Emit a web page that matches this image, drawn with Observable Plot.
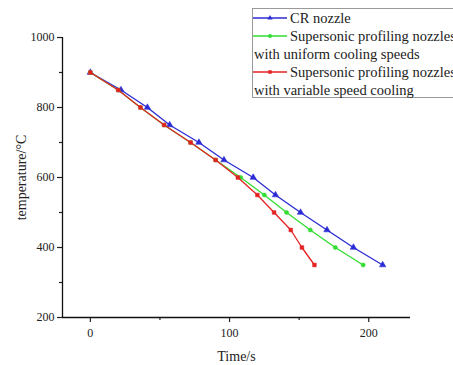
<!DOCTYPE html>
<html><head><meta charset="utf-8">
<script src="https://cdn.jsdelivr.net/npm/d3@7"></script>
<script src="https://cdn.jsdelivr.net/npm/@observablehq/plot@0.6"></script>
<style>
body{margin:0;background:#fff;}
#wrap{position:relative;width:453px;height:365px;overflow:hidden;font-family:"Liberation Serif","DejaVu Serif",serif;}
#legend{position:absolute;left:252px;top:8px;width:230px;height:90px;border:1px solid #999;background:#fff;font-size:14.5px;line-height:18px;color:#222;box-sizing:border-box;padding-top:0px;}
#legend .row{white-space:nowrap;height:18px;display:flex;align-items:center;}
#legend .row svg{flex:none;margin-right:3px;}
</style></head>
<body><div id="wrap"><div id="chart"></div><div id="legend"></div></div>
<script>
const seriesNames = ["CR nozzle", "Supersonic profiling nozzles with uniform cooling speeds", "Supersonic profiling nozzles with variable speed cooling"];
const legendLines = [["CR nozzle"], ["Supersonic profiling nozzles", "with uniform cooling speeds"], ["Supersonic profiling nozzles", "with variable speed cooling"]];
const colors = ["#2b2bd6", "#30dd30", "#e42222"];
const symbols = ["triangle", "circle", "square"];

const crTime = [0, 22, 41, 57, 78, 96, 117, 133, 151, 170, 189, 210];
const crTemp = [900, 850, 800, 750, 700, 650, 600, 550, 500, 450, 400, 350];
const uniTime = [0, 20, 36, 53, 72, 90, 108, 125, 141, 158, 176, 196];
const uniTemp = [900, 850, 800, 750, 700, 650, 600, 550, 500, 450, 400, 350];
const varTime = [0, 20, 36, 53, 72, 90, 106, 120, 132, 144, 152, 161];
const varTemp = [900, 850, 800, 750, 700, 650, 600, 550, 500, 450, 400, 350];

const xMajor = [0, 100, 200];
const xMinor = [50, 150];
const yMajor = [200, 400, 600, 800, 1000];
const yMinor = [300, 500, 700, 900];

const times = [crTime, uniTime, varTime];
const temps = [crTemp, uniTemp, varTemp];
const data = [];
times.forEach((ts, s) => ts.forEach((t, i) => data.push({series: seriesNames[s], idx: s, t, T: temps[s][i]})));

const marks = [];
seriesNames.forEach((name, s) => {
  const d = data.filter(r => r.idx === s);
  marks.push(Plot.line(d, {x: "t", y: "T", stroke: colors[s], strokeWidth: 1.3}));
  marks.push(Plot.dot(d, {x: "t", y: "T", fill: colors[s], stroke: colors[s], symbol: symbols[s], r: s === 0 ? 2.4 : 2.1, strokeWidth: 0.5}));
});

const chart = Plot.plot({
  width: 453, height: 365,
  marginLeft: 62, marginRight: 43, marginTop: 37, marginBottom: 48,
  style: {fontFamily: "'Liberation Serif', serif", fontSize: "12px", color: "#222", background: "#fff"},
  x: {domain: [-20, 230]},
  y: {domain: [200, 1000]},
  marks: [
    ...marks,
    Plot.axisX({ticks: xMinor, tickSize: 3, tickFormat: () => "", tickPadding: 0, strokeWidth: 1.2, label: null}),
    Plot.axisX({ticks: xMajor, tickSize: 5, tickPadding: 6, strokeWidth: 1.2, tickFormat: "d", label: "Time/s", labelAnchor: "center", labelArrow: "none", labelOffset: 43}),
    Plot.axisY({ticks: yMinor, tickSize: 3, tickFormat: () => "", tickPadding: 0, strokeWidth: 1.2, label: null}),
    Plot.axisY({ticks: yMajor, tickSize: 5, tickPadding: 3, strokeWidth: 1.2, tickFormat: "d", label: "temperature/\u00b0C", labelAnchor: "center", labelArrow: "none", labelOffset: 46}),
    Plot.ruleY([200], {stroke: "#111", strokeWidth: 1.3}),
    Plot.ruleX([-20], {stroke: "#111", strokeWidth: 1.3})
  ]
});
document.getElementById("chart").appendChild(chart);
chart.querySelectorAll("g[aria-label='x-axis label'] text, g[aria-label='y-axis label'] text").forEach(t => t.style.fontSize = "14px");

const lg = document.getElementById("legend");
legendLines.forEach((lines, s) => {
  const row = document.createElement("div");
  row.className = "row";
  const ns = "http://www.w3.org/2000/svg";
  const sv = document.createElementNS(ns, "svg");
  sv.setAttribute("width", 34); sv.setAttribute("height", 10);
  const ln = document.createElementNS(ns, "line");
  ln.setAttribute("x1", 0); ln.setAttribute("x2", 34); ln.setAttribute("y1", 5); ln.setAttribute("y2", 5);
  ln.setAttribute("stroke", colors[s]); ln.setAttribute("stroke-width", 1.3);
  sv.appendChild(ln);
  const sym = d3.symbol().type([d3.symbolTriangle, d3.symbolCircle, d3.symbolSquare][s]).size(12)();
  const p = document.createElementNS(ns, "path");
  p.setAttribute("d", sym); p.setAttribute("transform", "translate(17,5)"); p.setAttribute("fill", colors[s]);
  sv.appendChild(p);
  row.appendChild(sv);
  row.appendChild(document.createTextNode(lines[0]));
  lg.appendChild(row);
  if (lines[1]) {
    const r2 = document.createElement("div");
    r2.className = "row";
    r2.style.paddingLeft = "1px";
    r2.textContent = lines[1];
    lg.appendChild(r2);
  }
});
</script></body></html>
